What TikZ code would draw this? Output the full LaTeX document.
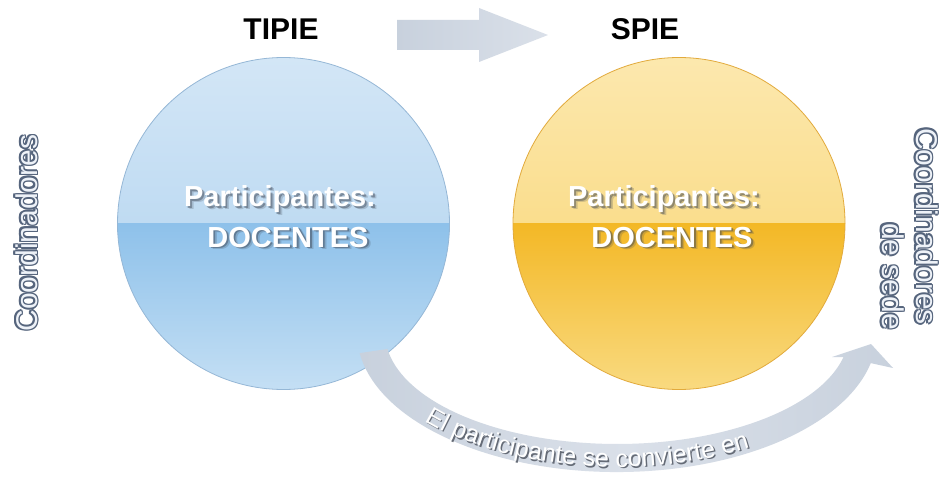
\documentclass[tikz,border=0pt]{standalone}
\usepackage{fontspec}
\setmainfont{Liberation Sans}
\usetikzlibrary{decorations.text,calc}
\definecolor{bluetop}{HTML}{D3E6F6}
\definecolor{bluemidA}{HTML}{ABD0EE}
\definecolor{bluemidB}{HTML}{8EC1EA}
\definecolor{bluebot}{HTML}{C4DFF4}
\definecolor{blueedge}{HTML}{95B7D6}
\definecolor{ortop}{HTML}{FCE8AE}
\definecolor{ormidA}{HTML}{F8D36C}
\definecolor{ormidB}{HTML}{F3B826}
\definecolor{orbot}{HTML}{F9DA80}
\definecolor{oredge}{HTML}{E2AA3C}
\definecolor{arrowA}{HTML}{C8D1DD}
\definecolor{arrowB}{HTML}{DAE0E9}
\definecolor{olc}{HTML}{56657D}
\definecolor{olfill}{HTML}{EEF2F8}
\definecolor{txtshadow}{HTML}{3E4654}
\newbox\olbox
\newcommand\olcp[2]{\rlap{\kern#1\raise#2\hbox{\color{olc}\copy\olbox}}}
\newcommand\oltext[1]{\setbox\olbox=\hbox{#1}%
\olcp{1.5pt}{0pt}\olcp{-1.5pt}{0pt}\olcp{0pt}{1.5pt}\olcp{0pt}{-1.5pt}%
\olcp{1.06pt}{1.06pt}\olcp{-1.06pt}{1.06pt}\olcp{1.06pt}{-1.06pt}\olcp{-1.06pt}{-1.06pt}%
\hbox{\color{olfill}\copy\olbox}}
\begin{document}
\begin{tikzpicture}[x=1pt,y=1pt,
  title/.style={font=\fontsize{30}{36}\selectfont\bfseries, text=black, anchor=base, inner sep=0pt},
  intext/.style={font=\fontsize{29}{34}\selectfont\bfseries, text=white, anchor=base, inner sep=0pt},
  inshadowA/.style={intext, text=txtshadow, text opacity=0.45},
  inshadowB/.style={intext, text=txtshadow, text opacity=0.22},
  sidetext/.style={font=\fontsize{30}{36}\selectfont, inner sep=0pt},
  bluecirc/.style={circle, minimum size=332pt, inner sep=0pt, draw=blueedge, line width=0.8pt,
    path picture={
      \shade[top color=bluetop, bottom color=bluemidA] (path picture bounding box.north west) rectangle (path picture bounding box.east);
      \shade[top color=bluemidB, bottom color=bluebot] (path picture bounding box.west) rectangle (path picture bounding box.south east);
    }},
  orcirc/.style={circle, minimum size=332pt, inner sep=0pt, draw=oredge, line width=0.8pt,
    path picture={
      \shade[top color=ortop, bottom color=ormidA] (path picture bounding box.north west) rectangle (path picture bounding box.east);
      \shade[top color=ormidB, bottom color=orbot] (path picture bounding box.west) rectangle (path picture bounding box.south east);
    }},
  bandtext/.style={decorate, decoration={text along path, text align=left,
    text={|\fontsize{25}{25}\selectfont\color{#1}|El participante se convierte en}}}
]
\useasboundingbox (0,0) rectangle (940,480);
\fill[white] (0,0) rectangle (940,480);

% titles
\node[title] (tipie) at (281,440) {TIPIE};
\node[title] (spie) at (645,440) {SPIE};

% top arrow
\shade[left color=arrowA, right color=arrowB]
  (397,460) -- (479,460) -- (479,472) -- (548,445) -- (479,418) -- (479,430) -- (397,430) -- cycle;

% circles
\node[bluecirc] (cb) at (283.5,256.5) {};
\node[orcirc] (co) at (679,256.5) {};

% circle texts
\node[inshadowB] (b1s2) at (283.5,270.5) {Participantes:};
\node[inshadowA] (b1s1) at (281.8,271.2) {Participantes:};
\node[intext] (b1) at (280,273) {Participantes:};
\node[inshadowB] (b2s2) at (291.5,230.5) {DOCENTES};
\node[inshadowA] (b2s1) at (289.8,231.2) {DOCENTES};
\node[intext] (b2) at (288,233) {DOCENTES};

\node[inshadowB] (o1s2) at (667.5,270.5) {Participantes:};
\node[inshadowA] (o1s1) at (665.8,271.2) {Participantes:};
\node[intext] (o1) at (664,273) {Participantes:};
\node[inshadowB] (o2s2) at (675.5,230.5) {DOCENTES};
\node[inshadowA] (o2s1) at (673.8,231.2) {DOCENTES};
\node[intext] (o2) at (672,233) {DOCENTES};

% curved arrow
\shade[left color=arrowA, right color=arrowA, middle color=arrowB]
  (359.7,126.9) arc[start angle=188.3, end angle=347.5, x radius=260, y radius=139]
  -- (893,112) -- (871,136) -- (832,123) -- (843.5,123)
  arc[start angle=347.5, end angle=188.3, x radius=232, y radius=111] -- cycle;

\path[bandtext=txtshadow!80, shift={(1.5,-1.5)}] ($(617,147)+(221:255 and 134)$) arc[start angle=221, end angle=355, x radius=255, y radius=134];
\path[bandtext=white] ($(617,147)+(221:255 and 134)$) arc[start angle=221, end angle=355, x radius=255, y radius=134];

% side labels
\node[sidetext, rotate=90, anchor=base] (lcoord) at (37,247) {\oltext{Coordinadores}};
\node[sidetext, rotate=-90, anchor=base east] (rcoord) at (916,155) {\oltext{Coordinadores}};
\node[sidetext, rotate=-90, anchor=base east] (rsede) at (882,150) {\oltext{de sede}};
\end{tikzpicture}
\end{document}
